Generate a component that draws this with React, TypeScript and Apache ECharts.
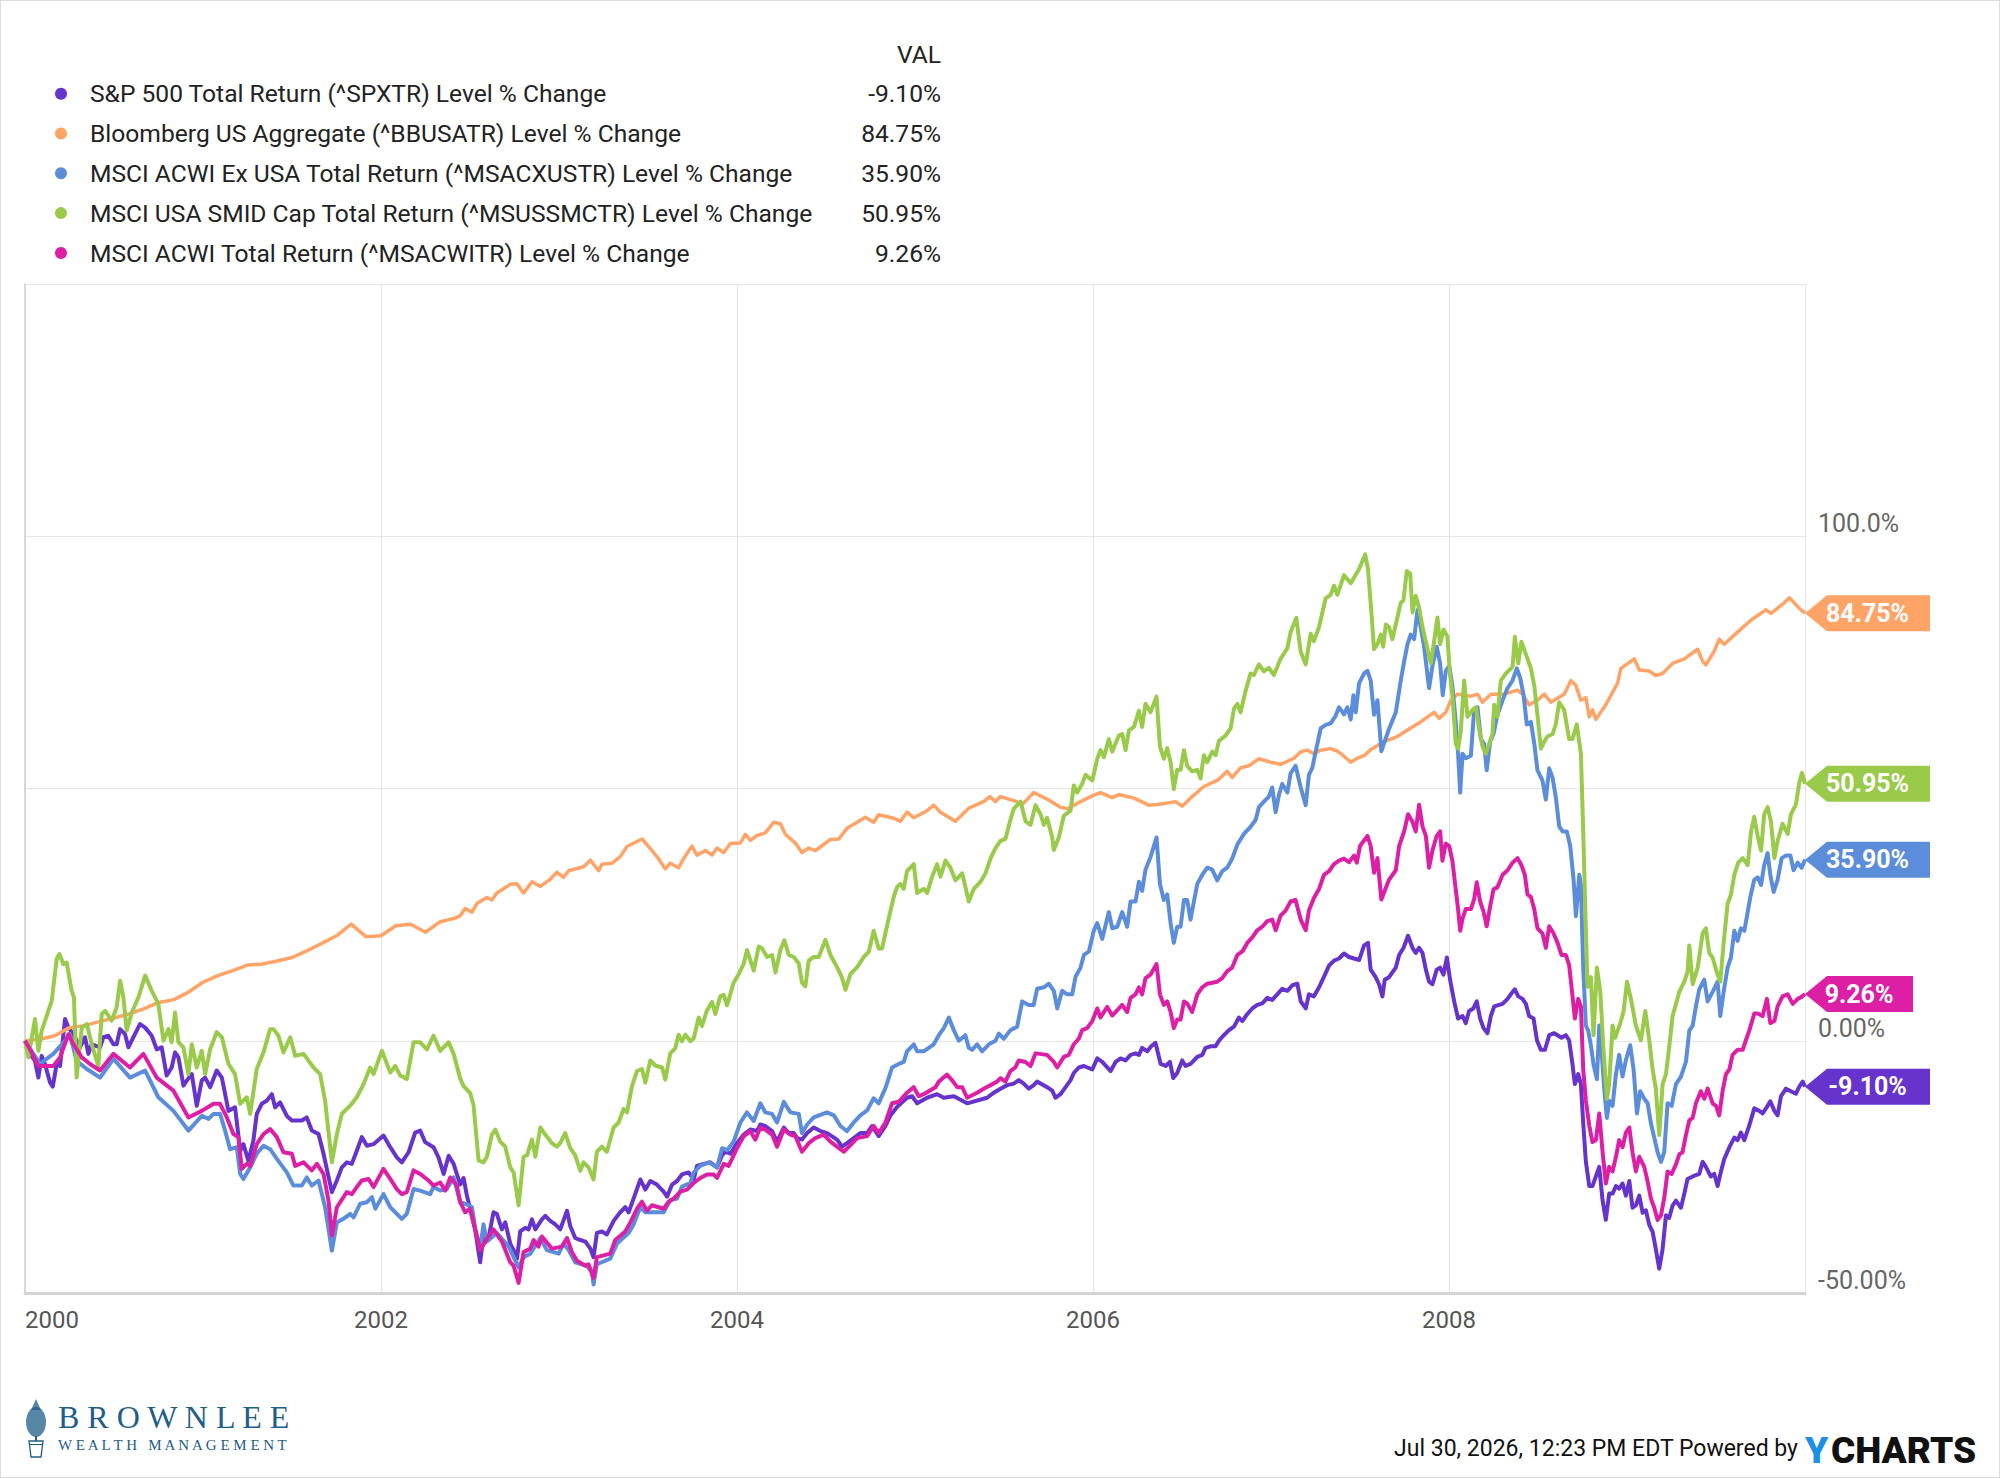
import React, { useEffect, useRef } from 'react';
import * as echarts from 'echarts';

// x values are years elapsed since Jan 2000, y values are % change
const xTickText = ['2000', '2002', '2004', '2006', '2008'];
const yTickText: Record<string, string> = { '-50': '-50.00%', '0': '0.00%', '100': '100.0%' };

const seriesNames = [
  'S&P 500 Total Return (^SPXTR) Level % Change',
  'Bloomberg US Aggregate (^BBUSATR) Level % Change',
  'MSCI ACWI Ex USA Total Return (^MSACXUSTR) Level % Change',
  'MSCI USA SMID Cap Total Return (^MSUSSMCTR) Level % Change',
  'MSCI ACWI Total Return (^MSACWITR) Level % Change',
];
const seriesColors = ['#6633cc', '#ffa366', '#5b8ddb', '#9aca4a', '#dd1fa6'];
const lastValueText = ['-9.10%', '84.75%', '35.90%', '50.95%', '9.26%'];

const spxData = [
  [0,0],[0.028,-2.6],[0.056,-4.0],[0.075,-7.3],[0.094,-3.0],[0.112,-4.6],[0.141,-8.3],[0.156,-9.1],[0.178,-4.6],[0.197,-5.0],[0.225,4.3],[0.244,2.6],[0.272,1.3],[0.309,-1.3],[0.337,0.7],[0.356,-2.6],[0.375,-0.7],[0.422,-1.3],[0.44,0.7],[0.468,1.0],[0.497,-0.7],[0.515,-0.7],[0.534,2.3],[0.562,1.3],[0.581,-1.3],[0.609,0.7],[0.646,3.3],[0.675,2.6],[0.712,1.0],[0.74,-1.7],[0.768,-1.3],[0.796,-6.9],[0.824,-5.3],[0.843,-2.3],[0.862,-3.3],[0.89,-8.9],[0.909,-7.9],[0.937,-6.6],[0.965,-12.9],[0.993,-7.9],[1.012,-7.3],[1.04,-9.2],[1.077,-5.9],[1.106,-7.3],[1.143,-13.9],[1.18,-13.2],[1.209,-21.8],[1.227,-20.5],[1.255,-23.8],[1.283,-19.8],[1.302,-14.5],[1.33,-12.5],[1.358,-11.9],[1.387,-10.6],[1.405,-13.2],[1.433,-12.2],[1.471,-14.9],[1.499,-15.8],[1.555,-15.8],[1.583,-15.2],[1.611,-17.8],[1.649,-18.5],[1.677,-22.4],[1.724,-30.0],[1.752,-27.7],[1.78,-25.1],[1.808,-24.1],[1.836,-24.4],[1.864,-21.8],[1.892,-19.1],[1.921,-20.8],[1.958,-20.5],[2.014,-18.8],[2.052,-21.1],[2.089,-23.1],[2.117,-24.1],[2.155,-22.1],[2.192,-18.2],[2.22,-17.8],[2.248,-20.1],[2.295,-21.1],[2.323,-23.1],[2.352,-26.4],[2.38,-22.8],[2.408,-24.4],
  [2.445,-28.5],[2.464,-27.2],[2.482,-30.6],[2.501,-33.3],[2.529,-37.4],[2.557,-43.9],[2.576,-38.4],[2.604,-39.1],[2.632,-34.0],[2.651,-34.3],[2.679,-37.4],[2.698,-36.0],[2.726,-40.2],[2.745,-41.5],[2.764,-43.2],[2.782,-37.8],[2.81,-37.1],[2.829,-37.4],[2.848,-35.4],[2.867,-37.4],[2.904,-35.4],[2.923,-34.7],[2.951,-35.7],[2.979,-36.4],[3.007,-37.4],[3.045,-33.7],[3.063,-36.7],[3.091,-39.1],[3.12,-39.5],[3.148,-39.8],[3.176,-41.2],[3.194,-42.9],[3.213,-38.1],[3.241,-37.8],[3.269,-38.4],[3.307,-35.7],[3.344,-34.0],[3.372,-33.0],[3.391,-34.0],[3.419,-31.3],[3.457,-27.5],[3.485,-29.5],[3.513,-27.8],[3.55,-28.5],[3.588,-29.9],[3.607,-30.9],[3.635,-28.5],[3.663,-27.8],[3.691,-26.5],[3.728,-26.1],[3.757,-27.5],[3.775,-24.8],[3.813,-24.4],[3.85,-24.1],[3.888,-25.1],[3.916,-22.7],[3.935,-22.0],[3.963,-22.4],[4.0,-20.3],[4.038,-18.6],[4.075,-17.6],[4.113,-17.9],[4.131,-16.6],[4.159,-16.9],[4.197,-17.9],[4.225,-20.0],[4.263,-17.2],[4.291,-18.3],[4.319,-18.3],[4.338,-19.3],[4.365,-19.6],[4.394,-18.3],[4.431,-17.2],[4.469,-17.9],[4.506,-18.3],[4.562,-19.6],[4.59,-21.0],[4.618,-20.3],[4.656,-19.3],[4.693,-18.3],[4.731,-18.3],[4.759,-16.9],[4.796,-18.9],[4.834,-16.9],[4.862,-14.8],[4.9,-13.1],
  [4.955,-11.3],[4.984,-11.0],[5.012,-12.4],[5.068,-11.3],[5.124,-10.6],[5.162,-11.3],[5.218,-11.0],[5.293,-12.4],[5.405,-11.3],[5.443,-10.3],[5.48,-9.5],[5.518,-8.8],[5.555,-8.5],[5.583,-7.8],[5.611,-8.5],[5.639,-9.5],[5.667,-8.8],[5.686,-8.1],[5.742,-9.2],[5.771,-9.9],[5.789,-11.3],[5.817,-10.6],[5.846,-9.2],[5.874,-7.8],[5.892,-6.4],[5.92,-5.3],[5.949,-5.0],[5.996,-5.7],[6.024,-3.5],[6.052,-4.2],[6.099,-6.0],[6.127,-4.2],[6.155,-3.5],[6.183,-3.9],[6.211,-2.8],[6.239,-2.5],[6.258,-2.8],[6.276,-1.4],[6.305,-2.1],[6.327,-1.1],[6.351,-0.4],[6.38,-4.6],[6.408,-5.0],[6.432,-4.2],[6.451,-7.4],[6.473,-6.4],[6.501,-3.9],[6.52,-5.0],[6.548,-4.6],[6.586,-3.2],[6.614,-2.8],[6.632,-1.4],[6.66,-1.1],[6.689,-1.1],[6.707,0],[6.735,1.1],[6.764,2.1],[6.792,2.8],[6.82,4.6],[6.839,3.9],[6.867,5.3],[6.895,6.4],[6.923,7.1],[6.951,7.4],[6.979,8.5],[7.007,8.1],[7.035,9.2],[7.063,10.3],[7.092,9.9],[7.12,11.0],[7.148,11.3],[7.167,7.8],[7.195,6.4],[7.213,9.2],[7.241,8.8],[7.27,10.6],[7.298,12.7],[7.326,14.9],[7.354,15.9],[7.382,16.3],[7.41,17.3],[7.438,16.6],
  [7.495,16.0],[7.523,18.9],[7.545,19.4],[7.56,14.1],[7.588,12.6],[7.607,11.2],[7.626,8.8],[7.639,12.1],[7.663,12.6],[7.701,14.5],[7.72,17.0],[7.744,18.4],[7.77,20.8],[7.795,18.4],[7.813,17.4],[7.832,18.4],[7.851,17.4],[7.87,14.1],[7.888,11.7],[7.907,11.2],[7.931,14.1],[7.95,14.5],[7.969,13.1],[7.988,16.5],[8.006,12.1],[8.029,7.8],[8.051,4.4],[8.076,4.9],[8.094,3.5],[8.113,5.9],[8.137,6.4],[8.156,7.8],[8.175,4.4],[8.194,2.5],[8.216,1.5],[8.235,4.9],[8.254,6.8],[8.301,7.3],[8.329,8.3],[8.347,9.2],[8.37,10.2],[8.389,8.8],[8.413,8.3],[8.432,7.3],[8.45,4.9],[8.475,4.4],[8.494,0.1],[8.516,-1.8],[8.539,-1.8],[8.563,1.1],[8.591,1.5],[8.632,0.6],[8.656,1.1],[8.675,0.1],[8.694,-4.7],[8.707,-8.6],[8.726,-6.6],[8.741,-8.6],[8.754,-16.3],[8.769,-24.0],[8.788,-28.8],[8.806,-28.8],[8.825,-26.9],[8.844,-25.0],[8.863,-31.7],[8.881,-35.5],[8.9,-30.3],[8.919,-30.3],[8.938,-28.8],[8.956,-29.3],[8.975,-28.3],[8.994,-30.7],[9.013,-27.8],[9.031,-33.1],[9.05,-32.6],[9.069,-30.7],[9.088,-34.1],[9.106,-33.6],[9.125,-36.5],[9.144,-37.9],[9.162,-41.3],[9.181,-45.2],[9.2,-41.3],[9.219,-34.6],[9.237,-35.1],[9.256,-32.7],[9.275,-31.7],[9.303,-33.1],[9.322,-30.3],[9.34,-27.4],[9.369,-26.9],[9.406,-26.4],[9.425,-24.0],[9.443,-25.0],[9.471,-26.9],[9.49,-26.4],[9.509,-28.8],[9.528,-25.9],[9.546,-23.5],[9.575,-21.1],[9.603,-19.2],[9.621,-19.7],[9.64,-18.2],[9.659,-19.7],[9.687,-16.8],[9.715,-13.4],[9.743,-13.9],[9.762,-14.4],[9.79,-12.9],[9.805,-12.0],[9.828,-13.9],[9.846,-14.8],[9.865,-11.0],[9.893,-9.5],[9.921,-10.0],[9.949,-10.5],[9.968,-9.1],[9.987,-8.1],[10,-9.1],
];

const aggData = [
  [0,0],[0.083,0.3],[0.167,1.0],[0.25,2.6],[0.333,3.0],[0.417,3.8],[0.5,4.5],[0.583,5.3],[0.667,6.3],[0.75,7.6],[0.833,8.1],[0.917,9.6],[1.0,11.6],[1.083,12.9],[1.167,13.9],[1.25,15.0],[1.333,15.2],[1.417,15.8],[1.5,16.5],[1.583,17.8],[1.667,19.3],[1.75,20.8],[1.833,23.1],[1.917,20.6],[2.0,20.8],[2.083,22.8],[2.167,23.1],[2.25,21.5],[2.333,23.6],[2.417,24.3],
  [2.445,24.8],[2.473,26.2],[2.511,25.5],[2.539,27.2],[2.595,28.4],[2.623,27.9],[2.651,29.3],[2.726,31.0],[2.764,31.1],[2.801,29.3],[2.848,31.5],[2.895,30.6],[2.951,32.0],[2.988,33.4],[3.026,32.4],[3.054,33.7],[3.138,34.5],[3.176,35.8],[3.223,33.7],[3.241,35.0],[3.298,35.2],[3.344,36.5],[3.382,38.5],[3.438,39.5],[3.466,40.0],[3.494,38.9],[3.55,36.5],[3.597,34.1],[3.625,35.2],[3.672,34.3],[3.7,36.1],[3.747,38.6],[3.775,36.8],[3.822,37.7],[3.86,36.8],[3.888,38.2],[3.925,37.3],[3.963,39.1],[4.019,39.2],[4.047,40.9],[4.075,39.7],[4.113,40.7],[4.159,41.2],[4.206,43.3],[4.244,43.0],[4.272,40.9],[4.328,39.2],[4.365,37.3],[4.403,38.2],[4.44,37.7],[4.487,38.9],[4.525,39.9],[4.572,40.0],[4.618,42.1],[4.675,43.3],[4.721,44.3],[4.768,43.3],[4.796,44.8],[4.881,44.1],
  [4.918,43.5],[4.955,45.3],[4.993,44.2],[5.068,45.6],[5.105,46.7],[5.143,45.3],[5.227,43.5],[5.302,46.1],[5.386,47.4],[5.42,48.4],[5.452,47.4],[5.48,48.4],[5.564,47.5],[5.602,46.8],[5.667,49.2],[5.742,47.9],[5.817,46.3],[5.855,46.0],[5.93,47.4],[6.005,48.7],[6.042,49.2],[6.108,48.2],[6.145,48.8],[6.23,48.1],[6.314,46.7],[6.398,47.0],[6.464,47.4],[6.501,46.5],[6.557,48.4],[6.623,50.4],[6.698,51.6],[6.754,53.4],[6.782,52.2],[6.829,54.1],[6.876,54.5],[6.932,55.9],[6.998,55.2],[7.054,54.8],[7.129,56.0],[7.167,57.3],[7.204,57.6],[7.241,56.9],[7.279,57.6],[7.335,57.9],[7.373,57.4],[7.41,56.4],
  [7.448,55.2],[7.485,56.0],[7.523,56.5],[7.56,57.7],[7.635,59.3],[7.71,60.3],[7.776,61.8],[7.841,63.2],[7.916,65.1],[7.945,63.9],[7.982,65.1],[8.01,67.5],[8.048,68.7],[8.123,68.3],[8.16,68.7],[8.188,67.1],[8.235,68.7],[8.31,68.7],[8.385,69.5],[8.413,68.7],[8.45,66.6],[8.497,67.5],[8.535,68.7],[8.572,67.1],[8.647,68.7],[8.685,71.4],[8.713,70.4],[8.741,67.5],[8.769,68.0],[8.788,64.2],[8.806,65.6],[8.825,63.7],[8.881,66.6],[8.947,70.9],[8.966,73.8],[9.041,75.7],[9.069,73.5],[9.125,73.3],[9.162,72.4],[9.2,72.8],[9.256,74.8],[9.322,75.7],[9.397,77.6],[9.425,75.2],[9.443,74.5],[9.49,77.2],[9.518,79.6],[9.546,78.6],[9.621,81.0],[9.697,83.4],[9.781,85.4],[9.809,84.7],[9.884,86.8],[9.912,87.8],[9.977,85.4],[10,84.75],
];

const acwxData = [
  [0,0],[0.047,-2.6],[0.084,-4.6],[0.159,-2.6],[0.225,0],[0.253,1.3],[0.29,-4.0],[0.347,-5.6],[0.422,-7.3],[0.497,-3.6],[0.59,-7.3],[0.675,-5.9],[0.749,-11.2],[0.834,-13.9],[0.918,-17.8],[0.993,-14.9],[1.031,-15.5],[1.059,-14.5],[1.096,-14.5],[1.124,-17.8],[1.152,-21.5],[1.19,-21.1],[1.209,-26.4],[1.227,-27.4],[1.265,-25.1],[1.302,-22.4],[1.34,-20.8],[1.377,-21.5],[1.415,-23.4],[1.471,-26.1],[1.508,-28.7],[1.555,-28.7],[1.583,-27.1],[1.611,-28.7],[1.649,-27.7],[1.686,-33.0],[1.724,-41.6],[1.752,-36.0],[1.789,-35.3],[1.827,-34.3],[1.846,-35.0],[1.883,-32.3],[1.921,-32.0],[1.949,-31.0],[1.968,-33.3],[2.014,-30.4],[2.052,-33.0],[2.089,-34.3],[2.117,-35.3],[2.145,-34.3],[2.183,-29.4],[2.22,-29.7],[2.276,-30.4],[2.295,-29.0],[2.333,-29.7],[2.37,-29.4],[2.408,-27.1],
  [2.445,-32.0],[2.492,-32.6],[2.511,-33.0],[2.529,-37.1],[2.557,-41.2],[2.576,-36.4],[2.595,-39.8],[2.651,-38.1],[2.717,-40.8],[2.773,-44.9],[2.801,-42.9],[2.839,-42.2],[2.895,-39.1],[2.932,-41.5],[2.998,-42.2],[3.026,-40.2],[3.054,-41.5],[3.091,-43.9],[3.157,-44.6],[3.185,-45.9],[3.194,-48.3],[3.213,-44.3],[3.288,-43.2],[3.326,-40.2],[3.391,-38.1],[3.419,-36.4],[3.457,-33.0],[3.485,-34.0],[3.588,-34.0],[3.625,-31.6],[3.663,-31.3],[3.691,-28.9],[3.738,-28.2],[3.757,-26.1],[3.794,-24.8],[3.841,-24.1],[3.888,-25.1],[3.916,-21.3],[3.944,-21.7],[3.981,-20.0],[4.019,-16.2],[4.056,-14.2],[4.094,-15.9],[4.131,-12.4],[4.159,-14.2],[4.197,-14.5],[4.225,-16.2],[4.263,-12.1],[4.3,-14.2],[4.347,-14.5],[4.365,-18.3],[4.394,-16.6],[4.431,-15.2],[4.506,-14.2],[4.544,-14.8],[4.581,-16.9],[4.618,-17.9],[4.656,-16.2],[4.693,-14.8],[4.731,-13.8],[4.768,-11.4],[4.796,-12.4],[4.834,-9.4],[4.871,-5.3],[4.909,-4.6],
  [4.937,-4.2],[4.955,-2.1],[4.993,-0.7],[5.012,-2.1],[5.049,-2.1],[5.105,-0.7],[5.134,1.1],[5.162,2.5],[5.19,4.6],[5.218,2.1],[5.246,0],[5.283,1.1],[5.302,-1.4],[5.321,-1.8],[5.349,-0.7],[5.377,-2.1],[5.415,-0.7],[5.452,0],[5.471,1.4],[5.499,0.4],[5.536,2.1],[5.574,2.8],[5.602,7.8],[5.639,7.1],[5.667,7.1],[5.686,10.3],[5.724,10.6],[5.752,11.3],[5.78,9.9],[5.799,6.4],[5.827,9.9],[5.855,9.2],[5.883,9.2],[5.902,12.7],[5.93,14.5],[5.949,17.0],[5.977,17.7],[6.005,21.9],[6.024,23.3],[6.052,20.2],[6.089,25.5],[6.108,22.3],[6.136,22.6],[6.164,25.5],[6.192,22.6],[6.211,27.6],[6.239,27.6],[6.258,31.5],[6.276,29.7],[6.295,33.9],[6.323,36.4],[6.357,40.3],[6.376,31.1],[6.398,27.9],[6.417,29.0],[6.436,23.3],[6.454,19.4],[6.473,22.6],[6.492,22.6],[6.511,27.9],[6.529,27.9],[6.548,24.0],[6.567,27.6],[6.586,31.1],[6.614,32.9],[6.642,34.3],[6.67,33.9],[6.698,31.8],[6.726,33.6],[6.754,34.3],[6.782,36.1],[6.811,38.9],[6.848,41.0],[6.885,42.4],[6.914,43.8],[6.932,46.3],[6.96,47.4],[6.988,48.4],[7.007,50.2],[7.026,45.3],[7.045,48.8],[7.063,50.9],[7.092,49.2],[7.11,53.0],[7.138,54.5],[7.167,50.2],[7.195,46.7],[7.213,52.7],[7.232,54.1],[7.251,57.3],[7.279,61.9],[7.307,62.6],[7.335,62.9],[7.363,64.4],[7.382,66.1],[7.41,64.7],[7.429,66.1],
  [7.448,63.7],[7.463,68.5],[7.476,65.1],[7.495,70.9],[7.523,72.8],[7.542,73.3],[7.56,71.4],[7.579,64.6],[7.598,67.5],[7.62,57.4],[7.663,61.8],[7.701,65.1],[7.729,71.4],[7.748,75.2],[7.767,78.6],[7.785,80.5],[7.804,79.6],[7.823,85.4],[7.841,82.0],[7.86,78.1],[7.888,69.9],[7.907,74.3],[7.931,78.1],[7.95,74.8],[7.965,68.5],[7.982,73.3],[8.001,74.3],[8.019,70.4],[8.038,63.2],[8.051,56.9],[8.063,49.2],[8.076,56.9],[8.094,56.0],[8.123,56.5],[8.141,65.6],[8.16,66.1],[8.179,59.8],[8.197,58.9],[8.212,53.6],[8.231,59.3],[8.25,60.8],[8.272,64.6],[8.301,67.5],[8.329,69.9],[8.357,71.4],[8.381,73.8],[8.4,71.9],[8.419,68.5],[8.437,62.7],[8.46,63.2],[8.479,58.9],[8.497,53.6],[8.525,51.6],[8.544,47.8],[8.563,54.0],[8.582,52.1],[8.6,48.3],[8.619,42.5],[8.638,41.5],[8.662,41.5],[8.681,38.6],[8.7,31.9],[8.713,24.7],[8.732,32.9],[8.741,30.9],[8.754,14.5],[8.769,3.0],[8.782,2.0],[8.797,-0.9],[8.812,-4.7],[8.831,-7.6],[8.844,3.0],[8.857,-1.8],[8.872,-9.5],[8.887,-15.3],[8.9,-11.9],[8.919,-12.9],[8.938,-6.6],[8.956,-2.8],[8.975,-7.1],[8.994,-3.8],[9.018,-0.9],[9.037,-5.7],[9.056,-14.4],[9.074,-10.0],[9.097,-11.5],[9.116,-12.4],[9.134,-16.3],[9.153,-19.2],[9.172,-22.1],[9.191,-24.0],[9.209,-22.1],[9.228,-12.4],[9.251,-12.9],[9.275,-8.6],[9.303,-7.1],[9.331,-4.2],[9.35,2.0],[9.369,3.0],[9.387,6.8],[9.406,10.2],[9.434,12.1],[9.453,7.8],[9.481,9.7],[9.509,11.7],[9.524,4.9],[9.543,9.7],[9.565,14.5],[9.584,16.5],[9.603,21.8],[9.621,19.8],[9.64,22.3],[9.659,21.8],[9.674,24.7],[9.693,28.5],[9.715,31.9],[9.734,32.4],[9.753,30.9],[9.771,34.8],[9.79,37.2],[9.805,32.9],[9.824,29.5],[9.846,31.9],[9.869,36.2],[9.893,36.7],[9.918,36.7],[9.936,33.8],[9.959,35.3],[9.981,34.3],[10,35.9],
];

const smidData = [
  [0,0],[0.019,-3.3],[0.056,4.3],[0.075,-2.0],[0.094,2.0],[0.15,7.9],[0.178,16.2],[0.193,17.2],[0.215,15.2],[0.234,15.5],[0.262,9.9],[0.275,8.6],[0.29,-7.3],[0.319,2.6],[0.347,3.3],[0.375,-0.7],[0.412,-5.0],[0.431,5.3],[0.45,5.9],[0.487,4.0],[0.515,6.6],[0.534,11.9],[0.553,8.6],[0.571,2.0],[0.6,5.6],[0.637,8.6],[0.675,12.9],[0.712,9.9],[0.749,7.3],[0.778,0],[0.806,2.3],[0.824,-0.3],[0.843,5.6],[0.862,-0.3],[0.89,-1.3],[0.918,-6.6],[0.937,-0.7],[0.965,-5.3],[0.993,-2.0],[1.012,-6.6],[1.04,-1.7],[1.077,1.7],[1.106,0.7],[1.143,-4.6],[1.18,-6.6],[1.209,-12.5],[1.246,-11.2],[1.265,-14.5],[1.302,-5.6],[1.34,-2.3],[1.377,2.3],[1.396,2.3],[1.424,1.0],[1.452,-2.3],[1.49,0.7],[1.518,-3.0],[1.565,-2.6],[1.621,-5.3],[1.658,-6.6],[1.686,-11.9],[1.724,-24.1],[1.752,-18.5],[1.78,-14.5],[1.836,-12.5],[1.864,-11.2],[1.902,-8.6],[1.939,-5.3],[1.958,-6.6],[2.005,-2.0],[2.052,-6.3],[2.08,-5.0],[2.108,-6.9],[2.145,-7.6],[2.183,-0.3],[2.22,-0.3],[2.258,-1.7],[2.295,1.0],[2.333,-2.0],[2.38,-0.3],[2.408,-2.6],
  [2.445,-7.5],[2.464,-9.0],[2.501,-10.4],[2.52,-12.8],[2.548,-23.7],[2.576,-24.1],[2.595,-23.0],[2.623,-18.6],[2.642,-17.6],[2.67,-20.0],[2.698,-21.0],[2.726,-25.1],[2.745,-26.1],[2.773,-32.6],[2.801,-23.0],[2.82,-22.7],[2.848,-19.6],[2.867,-23.0],[2.895,-17.2],[2.923,-18.6],[2.96,-20.3],[2.988,-21.0],[3.007,-20.3],[3.035,-18.3],[3.063,-21.3],[3.091,-22.7],[3.12,-25.8],[3.138,-24.1],[3.166,-25.1],[3.194,-27.5],[3.213,-22.0],[3.241,-21.0],[3.269,-22.0],[3.307,-17.2],[3.335,-16.2],[3.363,-13.5],[3.382,-14.2],[3.41,-9.0],[3.438,-6.0],[3.466,-5.6],[3.485,-8.3],[3.513,-3.9],[3.541,-4.9],[3.579,-5.3],[3.597,-7.7],[3.625,-2.5],[3.653,-1.5],[3.672,1.2],[3.691,-0.1],[3.71,1.2],[3.738,-0.1],[3.757,0.5],[3.785,4.6],[3.803,2.9],[3.831,6.0],[3.86,7.7],[3.878,5.3],[3.906,8.8],[3.925,9.1],[3.944,7.0],[3.981,11.5],[4.009,13.2],[4.038,15.3],[4.056,18.0],[4.094,13.9],[4.122,18.7],[4.141,18.3],[4.169,16.6],[4.197,17.0],[4.216,13.5],[4.244,18.0],[4.266,19.9],[4.291,17.0],[4.319,16.6],[4.347,15.3],[4.365,11.5],[4.384,10.8],[4.403,15.9],[4.431,16.6],[4.459,16.6],[4.497,20.0],[4.525,17.0],[4.562,14.6],[4.59,12.5],[4.609,10.1],[4.637,13.2],[4.675,14.6],[4.712,16.6],[4.74,17.6],[4.768,21.8],[4.796,18.3],[4.815,18.3],[4.843,22.8],[4.881,28.6],[4.9,30.5],
  [4.918,31.1],[4.937,30.1],[4.955,33.6],[4.993,35.0],[5.012,29.3],[5.049,30.1],[5.068,29.3],[5.096,32.5],[5.124,35.0],[5.143,32.5],[5.171,35.7],[5.199,34.3],[5.227,31.8],[5.265,33.2],[5.302,27.6],[5.33,30.1],[5.368,31.5],[5.396,33.2],[5.424,36.1],[5.452,38.2],[5.48,39.6],[5.508,40.0],[5.536,43.8],[5.555,46.0],[5.593,47.4],[5.621,43.5],[5.649,42.8],[5.677,46.7],[5.705,44.9],[5.724,42.8],[5.742,44.2],[5.771,40.3],[5.78,37.8],[5.808,40.3],[5.836,44.6],[5.874,45.6],[5.892,50.6],[5.911,49.2],[5.939,50.9],[5.958,52.7],[5.996,51.6],[6.024,55.9],[6.042,57.6],[6.061,56.2],[6.089,59.8],[6.108,57.3],[6.145,60.5],[6.164,60.8],[6.183,57.6],[6.202,61.5],[6.23,62.2],[6.258,65.4],[6.276,62.2],[6.295,66.8],[6.323,65.1],[6.357,68.2],[6.376,58.3],[6.398,55.9],[6.417,58.0],[6.436,55.2],[6.454,49.9],[6.473,53.7],[6.492,53.7],[6.511,57.6],[6.529,54.5],[6.557,53.4],[6.586,53.7],[6.604,52.0],[6.623,56.6],[6.642,55.2],[6.67,57.3],[6.689,56.6],[6.707,59.4],[6.745,60.5],[6.773,61.9],[6.792,65.8],[6.811,66.8],[6.829,65.1],[6.857,69.3],[6.885,72.8],[6.904,72.5],[6.932,74.6],[6.96,73.2],[6.988,73.9],[7.016,72.5],[7.054,75.7],[7.092,77.8],[7.11,81.0],[7.142,83.8],[7.167,77.1],[7.195,74.6],[7.223,80.7],[7.241,79.2],[7.27,82.0],[7.307,87.7],[7.335,88.4],[7.354,90.2],[7.373,88.4],[7.41,92.3],
  [7.448,90.7],[7.495,93.5],[7.529,96.4],[7.545,93.5],[7.56,86.8],[7.579,77.6],[7.598,78.6],[7.617,80.5],[7.63,78.1],[7.645,82.5],[7.663,82.0],[7.682,79.6],[7.71,83.9],[7.729,86.8],[7.744,87.3],[7.763,93.1],[7.782,92.6],[7.795,84.9],[7.813,88.2],[7.832,85.8],[7.851,82.0],[7.87,79.1],[7.898,74.8],[7.916,79.1],[7.935,83.9],[7.95,78.6],[7.969,81.5],[7.991,80.1],[8.006,72.4],[8.019,68.5],[8.038,58.9],[8.051,57.9],[8.066,61.3],[8.085,71.4],[8.104,64.2],[8.132,65.6],[8.151,66.1],[8.169,61.8],[8.188,58.4],[8.207,56.9],[8.226,58.9],[8.244,60.8],[8.254,66.6],[8.272,64.2],[8.291,71.4],[8.319,72.8],[8.357,74.1],[8.37,80.1],[8.389,74.8],[8.407,79.1],[8.441,75.7],[8.46,73.8],[8.479,70.4],[8.497,64.6],[8.516,57.9],[8.535,59.3],[8.553,60.3],[8.582,60.8],[8.6,62.7],[8.619,67.1],[8.647,65.6],[8.675,59.8],[8.694,59.8],[8.718,62.7],[8.741,56.9],[8.754,41.5],[8.765,27.1],[8.778,10.7],[8.797,12.6],[8.812,1.1],[8.831,14.5],[8.85,9.7],[8.868,-1.8],[8.887,-11.5],[8.9,-8.6],[8.919,3.0],[8.934,0.6],[8.966,3.9],[8.981,5.9],[9.0,11.7],[9.022,8.3],[9.05,3.0],[9.078,0.1],[9.103,5.9],[9.125,0.1],[9.144,-5.7],[9.162,-9.5],[9.181,-18.7],[9.2,-8.6],[9.219,-6.6],[9.237,-1.3],[9.256,4.9],[9.294,9.7],[9.322,11.7],[9.34,13.6],[9.35,18.9],[9.369,11.2],[9.397,14.5],[9.425,21.3],[9.443,22.3],[9.462,17.4],[9.481,16.5],[9.5,14.1],[9.524,11.7],[9.543,19.4],[9.565,27.1],[9.584,29.0],[9.603,32.9],[9.625,35.3],[9.65,36.2],[9.678,34.8],[9.697,41.5],[9.715,44.4],[9.734,40.6],[9.753,37.7],[9.771,44.9],[9.79,46.3],[9.809,43.4],[9.828,36.2],[9.846,39.6],[9.874,43.0],[9.903,41.0],[9.921,44.9],[9.949,46.8],[9.968,51.2],[9.983,53.1],[10,50.95],
];

const acwiData = [
  [0,0],[0.028,-1.7],[0.075,-5.0],[0.159,-5.0],[0.197,-3.3],[0.244,1.3],[0.272,-0.7],[0.319,-3.3],[0.365,-4.6],[0.422,-5.9],[0.497,-2.6],[0.59,-5.3],[0.665,-2.6],[0.74,-7.3],[0.834,-9.9],[0.918,-15.2],[0.993,-13.9],[1.059,-12.5],[1.096,-12.5],[1.134,-15.2],[1.171,-18.5],[1.199,-19.1],[1.218,-25.4],[1.246,-24.4],[1.265,-24.8],[1.302,-20.5],[1.34,-18.5],[1.377,-17.5],[1.415,-19.1],[1.452,-22.1],[1.499,-22.4],[1.518,-24.8],[1.565,-24.1],[1.611,-25.7],[1.64,-24.4],[1.677,-26.4],[1.705,-31.7],[1.724,-38.6],[1.752,-33.0],[1.808,-30.0],[1.836,-30.4],[1.864,-29.0],[1.892,-27.7],[1.93,-27.4],[1.958,-29.0],[2.014,-25.4],[2.052,-27.4],[2.089,-29.4],[2.117,-30.4],[2.145,-30.0],[2.183,-25.7],[2.22,-26.4],[2.267,-27.7],[2.295,-28.7],[2.333,-28.1],[2.361,-29.7],[2.389,-27.1],[2.426,-28.7],
  [2.445,-32.0],[2.473,-34.0],[2.501,-33.3],[2.529,-37.4],[2.557,-41.5],[2.604,-38.8],[2.632,-37.4],[2.679,-39.8],[2.726,-43.9],[2.745,-44.6],[2.773,-48.0],[2.801,-41.9],[2.839,-41.2],[2.857,-39.5],[2.885,-40.8],[2.904,-38.8],[2.96,-41.2],[3.016,-40.8],[3.045,-39.1],[3.073,-41.9],[3.101,-43.6],[3.148,-44.6],[3.166,-44.3],[3.194,-47.0],[3.213,-42.9],[3.288,-42.2],[3.316,-39.5],[3.372,-37.8],[3.401,-36.0],[3.438,-33.3],[3.466,-31.9],[3.494,-33.7],[3.522,-32.6],[3.588,-33.3],[3.616,-31.9],[3.644,-31.3],[3.682,-29.9],[3.719,-29.5],[3.757,-28.2],[3.794,-27.2],[3.831,-26.5],[3.869,-26.5],[3.888,-27.2],[3.925,-24.4],[3.953,-24.8],[3.972,-23.4],[4.0,-21.3],[4.038,-18.9],[4.075,-17.9],[4.103,-19.6],[4.131,-17.2],[4.159,-17.6],[4.197,-18.6],[4.225,-21.0],[4.263,-17.6],[4.3,-18.6],[4.328,-18.9],[4.365,-22.0],[4.403,-20.3],[4.44,-19.3],[4.487,-18.6],[4.525,-20.0],[4.562,-21.0],[4.6,-22.0],[4.637,-20.7],[4.675,-19.3],[4.731,-18.9],[4.768,-16.9],[4.796,-18.3],[4.834,-16.2],[4.871,-12.4],[4.909,-12.1],
  [4.955,-10.3],[4.993,-9.2],[5.021,-11.0],[5.049,-10.6],[5.115,-9.2],[5.134,-8.1],[5.18,-6.7],[5.208,-7.8],[5.237,-9.2],[5.265,-9.2],[5.293,-11.3],[5.349,-10.3],[5.386,-9.5],[5.461,-8.1],[5.48,-7.4],[5.508,-8.1],[5.536,-6.0],[5.564,-5.3],[5.583,-3.9],[5.621,-4.2],[5.649,-5.0],[5.677,-2.5],[5.742,-2.8],[5.78,-4.2],[5.799,-5.3],[5.836,-3.2],[5.864,-2.8],[5.892,-0.7],[5.92,0.4],[5.939,2.1],[5.967,2.5],[5.996,3.9],[6.024,6.4],[6.042,4.6],[6.08,6.7],[6.108,5.0],[6.164,7.1],[6.192,5.7],[6.211,8.5],[6.239,9.2],[6.258,10.6],[6.276,9.2],[6.295,12.4],[6.323,13.1],[6.357,15.2],[6.376,9.2],[6.398,7.1],[6.417,7.8],[6.436,5.7],[6.454,2.5],[6.473,4.2],[6.492,4.2],[6.511,7.8],[6.529,7.4],[6.557,5.7],[6.586,9.2],[6.614,10.6],[6.642,11.3],[6.698,11.7],[6.726,12.4],[6.754,13.8],[6.782,14.5],[6.811,17.0],[6.839,17.7],[6.867,19.4],[6.895,20.5],[6.923,21.9],[6.951,22.6],[6.979,23.7],[7.007,24.0],[7.026,21.9],[7.054,24.8],[7.082,25.8],[7.11,27.6],[7.138,27.9],[7.167,24.0],[7.195,21.9],[7.213,25.8],[7.241,28.3],[7.27,30.1],[7.298,32.9],[7.326,33.6],[7.354,35.0],[7.382,35.7],[7.41,36.1],[7.438,35.4],
  [7.467,36.7],[7.482,35.3],[7.5,38.6],[7.542,40.6],[7.56,38.6],[7.579,33.3],[7.598,36.2],[7.62,28.0],[7.663,31.9],[7.701,33.8],[7.72,38.6],[7.748,41.5],[7.77,44.9],[7.795,43.4],[7.813,41.5],[7.832,46.8],[7.851,42.5],[7.87,40.6],[7.888,34.3],[7.907,37.7],[7.931,40.6],[7.95,41.5],[7.963,35.7],[7.982,39.1],[8.001,38.6],[8.019,35.7],[8.038,30.0],[8.051,26.1],[8.063,21.8],[8.076,24.2],[8.094,26.1],[8.123,26.1],[8.141,28.0],[8.156,31.4],[8.175,27.6],[8.194,25.6],[8.212,22.7],[8.231,26.6],[8.25,30.0],[8.272,30.4],[8.301,32.9],[8.329,33.8],[8.357,35.3],[8.385,36.2],[8.407,34.8],[8.426,32.9],[8.441,29.0],[8.46,28.5],[8.479,26.1],[8.497,22.3],[8.525,21.3],[8.544,18.4],[8.563,22.7],[8.587,21.3],[8.61,19.4],[8.632,17.0],[8.656,17.0],[8.675,15.0],[8.694,8.8],[8.707,4.4],[8.726,8.3],[8.741,6.8],[8.754,-5.7],[8.769,-11.9],[8.788,-16.8],[8.806,-20.1],[8.825,-19.7],[8.844,-14.4],[8.863,-22.1],[8.881,-28.3],[8.9,-25.0],[8.919,-25.9],[8.938,-23.0],[8.956,-19.7],[8.975,-21.1],[8.994,-18.2],[9.013,-17.2],[9.031,-22.1],[9.05,-25.9],[9.069,-23.0],[9.097,-25.0],[9.116,-27.9],[9.134,-31.2],[9.153,-33.1],[9.172,-35.5],[9.191,-34.6],[9.209,-31.2],[9.228,-25.9],[9.251,-26.4],[9.275,-24.5],[9.294,-22.5],[9.312,-22.1],[9.331,-18.7],[9.35,-15.8],[9.369,-15.3],[9.387,-12.4],[9.415,-10.0],[9.434,-11.5],[9.453,-9.5],[9.481,-12.4],[9.5,-12.9],[9.518,-14.8],[9.537,-10.0],[9.556,-6.6],[9.575,-5.7],[9.593,-2.8],[9.621,-1.8],[9.65,-1.8],[9.668,0.1],[9.687,2.0],[9.715,5.4],[9.734,5.4],[9.762,4.9],[9.786,8.3],[9.805,3.5],[9.828,3.9],[9.846,6.8],[9.874,8.8],[9.903,9.2],[9.931,7.3],[9.959,8.3],[9.981,8.7],[10,9.26],
];

const allData = [spxData, aggData, acwxData, smidData, acwiData];
const tagWidths = [125, 125, 125, 125, 108];

function buildOption() {
  const series = allData.map((data, i) => {
    const last = data[data.length - 1];
    const w = tagWidths[i];
    return {
      type: 'line',
      name: seriesNames[i],
      data,
      symbol: 'none',
      showSymbol: false,
      lineStyle: { width: i === 1 ? 3.5 : 4, color: seriesColors[i], join: 'round' },
      itemStyle: { color: seriesColors[i] },
      emphasis: { disabled: true },
      markPoint: {
        silent: true,
        symbol: `path://M0,18L22,0L${w},0L${w},36L22,36Z`,
        symbolSize: [w, 36],
        symbolOffset: [w / 2, 0],
        symbolKeepAspect: false,
        itemStyle: { color: seriesColors[i] },
        label: {
          show: true,
          position: 'inside',
          formatter: lastValueText[i],
          color: '#ffffff',
          fontSize: 25,
          fontWeight: 'bold',
          fontFamily: 'Roboto',
        },
        data: [{ coord: [last[0], last[1]] }],
      },
    };
  });

  const rowY = [93.7, 133.5, 173.3, 213.1, 253];
  const logoColor = '#1f5d8a';
  const graphic: any[] = [
    { type: 'rect', shape: { x: 0.5, y: 0.5, width: 1999, height: 1477 }, style: { fill: 'none', stroke: '#dddddd', lineWidth: 1 }, silent: true },
    { type: 'text', x: 941, y: 54, style: { text: 'VAL', fill: '#222', fontSize: 24.6, fontFamily: 'Roboto', align: 'right', verticalAlign: 'middle' } },
  ];
  seriesNames.forEach((n, i) => {
    graphic.push({ type: 'circle', shape: { cx: 61, cy: rowY[i], r: 6 }, style: { fill: seriesColors[i] } });
    graphic.push({ type: 'text', x: 90, y: rowY[i], style: { text: n, fill: '#222', fontSize: 24.6, fontFamily: 'Roboto', align: 'left', verticalAlign: 'middle' } });
    graphic.push({ type: 'text', x: 941, y: rowY[i], style: { text: lastValueText[i], fill: '#222', fontSize: 24.6, fontFamily: 'Roboto', align: 'right', verticalAlign: 'middle' } });
  });
  // Brownlee logo: topiary tree in a pot + letter-spaced serif wordmark
  graphic.push({ type: 'ellipse', shape: { cx: 36, cy: 1422, rx: 10, ry: 15 }, style: { fill: logoColor, opacity: 0.75 } });
  graphic.push({ type: 'polygon', shape: { points: [[36, 1399], [31, 1410], [41, 1410]] }, style: { fill: logoColor, opacity: 0.75 } });
  graphic.push({ type: 'line', shape: { x1: 36, y1: 1436, x2: 36, y2: 1441 }, style: { stroke: logoColor, lineWidth: 2 } });
  graphic.push({ type: 'polygon', shape: { points: [[29, 1441], [43, 1441], [41, 1457], [31, 1457]] }, style: { fill: 'none', stroke: logoColor, lineWidth: 1.3 } });
  graphic.push({ type: 'line', shape: { x1: 29.5, y1: 1444.5, x2: 42.5, y2: 1444.5 }, style: { stroke: logoColor, lineWidth: 1 } });
  graphic.push({ type: 'text', x: 58, y: 1417, style: { text: 'B R O W N L E E', fill: logoColor, fontSize: 32, fontFamily: 'Liberation Serif', verticalAlign: 'middle' } });
  graphic.push({ type: 'text', x: 58, y: 1445, style: { text: 'W E A L T H   M A N A G E M E N T', fill: logoColor, fontSize: 15, fontFamily: 'Liberation Serif', verticalAlign: 'middle' } });
  // footer
  graphic.push({ type: 'text', x: 1798, y: 1448, style: { text: 'Jul 30, 2026, 12:23 PM EDT Powered by', fill: '#111', fontSize: 23, fontFamily: 'Roboto', align: 'right', verticalAlign: 'middle' } });
  graphic.push({ type: 'text', x: 1805, y: 1450, style: { text: 'Y', fill: '#1a8fe3', fontSize: 37, fontWeight: 900, fontFamily: 'Roboto', verticalAlign: 'middle' } });
  graphic.push({ type: 'text', x: 1831, y: 1450, style: { text: 'CHARTS', fill: '#111', fontSize: 37, fontWeight: 900, fontFamily: 'Roboto', verticalAlign: 'middle' } });

  return {
    animation: false,
    backgroundColor: '#ffffff',
    textStyle: { fontFamily: 'Roboto' },
    grid: { left: 25, right: 195, top: 284, bottom: 185, containLabel: false },
    xAxis: {
      type: 'value',
      min: 0,
      max: 10,
      interval: 2,
      axisLine: { show: true, onZero: false, lineStyle: { color: '#d4d4d4', width: 3 } },
      axisTick: { show: false },
      splitLine: { show: true, lineStyle: { color: '#e6e6e6', width: 1 } },
      axisLabel: {
        formatter: (v: number) => xTickText[Math.round(v / 2)] ?? '',
        showMaxLabel: false,
        alignMinLabel: 'left',
        color: '#555',
        fontSize: 24,
        fontFamily: 'Roboto',
        margin: 15,
      },
    },
    yAxis: {
      type: 'value',
      position: 'right',
      min: -50,
      max: 150,
      interval: 50,
      axisLine: { show: true, lineStyle: { color: '#cccccc', width: 1.5 } },
      axisTick: { show: false },
      splitLine: { show: true, lineStyle: { color: '#e6e6e6', width: 1 } },
      axisLabel: {
        formatter: (v: number) => yTickText[String(v)] ?? '',
        color: '#666',
        fontSize: 25,
        fontFamily: 'Roboto',
        margin: 13,
        verticalAlign: 'bottom',
      },
    },
    series,
    graphic,
  };
}

export default function App() {
  const ref = useRef<HTMLDivElement>(null);
  useEffect(() => {
    document.body.style.margin = '0';
    const chart = echarts.init(ref.current as HTMLDivElement, null, { renderer: 'svg' });
    chart.setOption(buildOption() as any);
    return () => chart.dispose();
  }, []);
  return <div ref={ref} style={{ width: 2000, height: 1478 }} />;
}
